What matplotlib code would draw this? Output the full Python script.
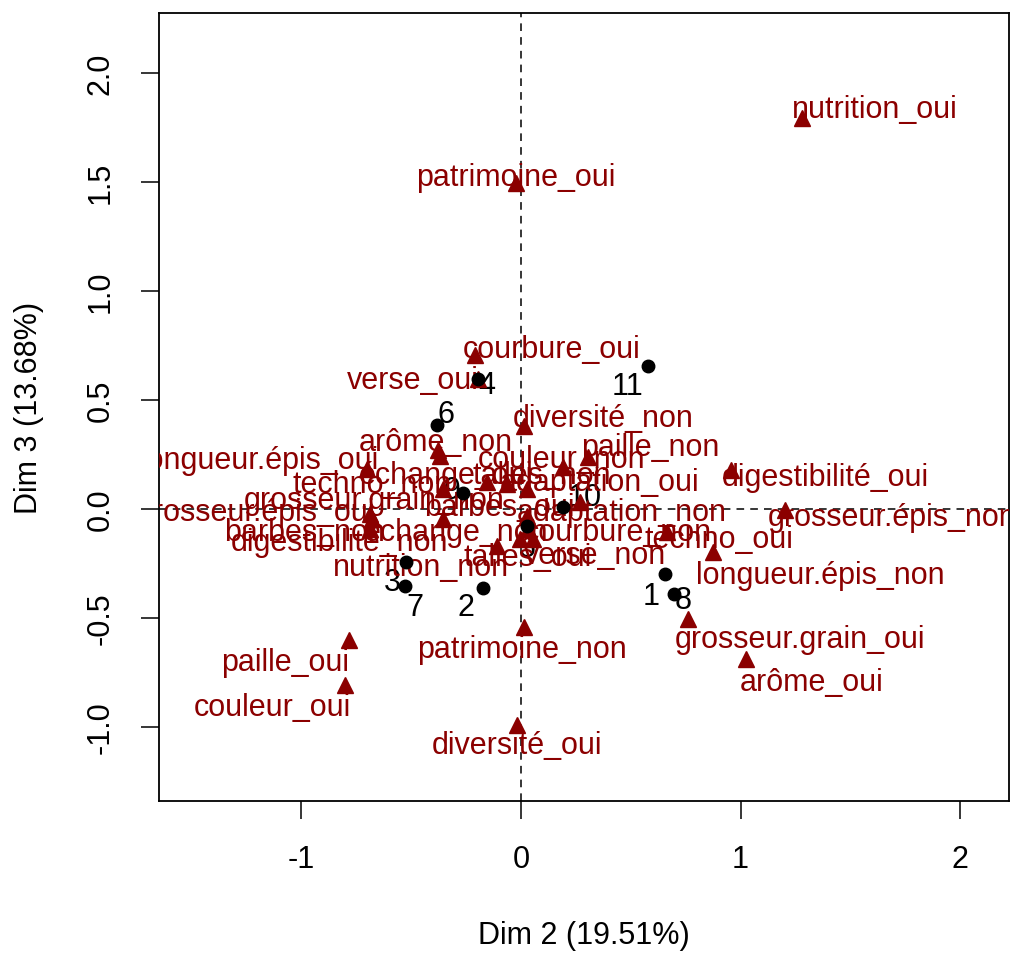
import matplotlib
matplotlib.use("Agg")
import matplotlib.pyplot as plt
from matplotlib import transforms

plt.rcParams['font.family'] = ['Liberation Sans', 'DejaVu Sans']
plt.rcParams['axes.unicode_minus'] = False

# Category (variable modalities) coordinates on Dim 2 / Dim 3
cat_names = ["nutrition_oui", "patrimoine_oui", "courbure_oui", "verse_oui", "diversité_non",
             "arôme_non", "paille_non", "couleur_non", "longueur.épis_oui", "échange_oui",
             "talles_non", "digestibilité_oui", "techno_non", "adaptation_oui", "grosseur.grain_non",
             "grosseur.épis_oui", "barbes_oui", "adaptation_non", "grosseur.épis_non", "barbes_non",
             "échange_non", "courbure_non", "techno_oui", "digestibilité_non", "talles_oui",
             "verse_non", "longueur.épis_non", "nutrition_non", "patrimoine_non", "grosseur.grain_oui",
             "paille_oui", "arôme_oui", "couleur_oui", "diversité_oui"]
cat_x = [1.280, -0.023, -0.210, -0.196, 0.014, -0.378, 0.305, 0.191, -0.702, -0.355,
         -0.155, 0.957, -0.064, 0.269, -0.369, -0.688, 0.027, 0.027, 1.203, -0.679,
         -0.355, 0.055, 0.665, -0.688, -0.005, 0.032, 0.875, -0.109, 0.014, 0.761,
         -0.784, 1.025, -0.802, -0.018]
cat_y = [1.794, 1.495, 0.706, 0.596, 0.381, 0.271, 0.239, 0.193, 0.183, 0.092,
         0.124, 0.179, 0.115, 0.032, 0.243, -0.023, 0.092, -0.032, -0.005, -0.046,
         -0.046, -0.138, -0.106, -0.092, -0.138, -0.092, -0.197, -0.170, -0.541, -0.505,
         -0.601, -0.688, -0.807, -0.991]
# label anchor positions (after automatic label placement)
cat_lab_x = [1.613, -0.023, 0.141, -0.492, 0.374, -0.387, 0.588, 0.187, -1.194, -0.342,
             0.096, 1.385, -0.679, 0.360, -0.670, -1.207, -0.100, 0.460, 1.690, -0.984,
             -0.296, 0.442, 0.902, -0.825, 0.032, 0.337, 1.362, -0.456, 0.005, 1.271,
             -1.075, 1.326, -1.134, -0.018]
cat_lab_y = [1.849, 1.537, 0.748, 0.606, 0.431, 0.321, 0.298, 0.243, 0.239, 0.170,
             0.170, 0.161, 0.128, 0.138, 0.055, 0.0, 0.023, 0.0, -0.023, -0.092,
             -0.092, -0.092, -0.124, -0.138, -0.206, -0.197, -0.289, -0.252, -0.628, -0.583,
             -0.688, -0.780, -0.894, -1.069]

# Individuals
ind_names = ["11", "4", "6", "9", "10", "5", "3", "7", "2", "1", "8"]
ind_x = [0.579, -0.196, -0.383, -0.264, 0.191, 0.027, -0.524, -0.528, -0.173, 0.656, 0.697]
ind_y = [0.656, 0.596, 0.385, 0.073, 0.009, -0.078, -0.243, -0.353, -0.362, -0.298, -0.390]
ind_lab_x = [0.487, -0.155, -0.342, -0.314, 0.292, 0.027, -0.588, -0.483, -0.251, 0.592, 0.738]
ind_lab_y = [0.578, 0.583, 0.450, 0.101, 0.069, -0.165, -0.321, -0.436, -0.436, -0.385, -0.404]

x_ticks = [-1, 0, 1, 2]
y_ticks = [-1.0, -0.5, 0.0, 0.5, 1.0, 1.5, 2.0]
xlabel = "Dim 2 (19.51%)"
ylabel = "Dim 3 (13.68%)"

RED = "#8B0000"
FS = 22

fig = plt.figure(figsize=(10.10, 9.54), dpi=100)
ax = fig.add_axes([159/1010, 1-802/954, (1009-159)/1010, (802-14)/954])
ax.set_xlim(-1.649, 2.223)
ax.set_ylim(-1.339, 2.275)

ax.axhline(0, color="black", lw=1.1, ls=(0, (5, 4)), zorder=1)
ax.axvline(0, color="black", lw=1.1, ls=(0, (5, 4)), zorder=1)

txt_tr = transforms.offset_copy(ax.transData, fig=fig, x=0, y=-3, units="dots")

ax.plot(cat_x, cat_y, linestyle="none", marker="^", ms=12, color=RED, mec=RED, zorder=3)
for n, lx, ly in zip(ind_names, ind_lab_x, ind_lab_y):
    ax.text(lx, ly, n, color="black", fontsize=FS, ha="center", va="center", zorder=2,
            clip_on=True, transform=txt_tr)
for n, lx, ly in zip(cat_names, cat_lab_x, cat_lab_y):
    ax.text(lx, ly, n, color=RED, fontsize=FS, ha="center", va="center", zorder=4,
            clip_on=True, transform=txt_tr)
ax.plot(ind_x, ind_y, linestyle="none", marker="o", ms=9, color="black", zorder=5)

ax.set_xticks(x_ticks)
ax.set_xticklabels([str(t) for t in x_ticks])
ax.set_yticks(y_ticks)
ax.set_yticklabels([f"{t:.1f}" for t in y_ticks], rotation=90, va="center")
ax.tick_params(axis="both", direction="out", length=13, width=1.1, labelsize=FS, pad=18)
for s in ax.spines.values():
    s.set_linewidth(1.3)

ax.set_xlabel(xlabel, fontsize=FS, labelpad=33)
ax.set_ylabel(ylabel, fontsize=FS, labelpad=30)

fig.savefig("out.png", dpi=100)
